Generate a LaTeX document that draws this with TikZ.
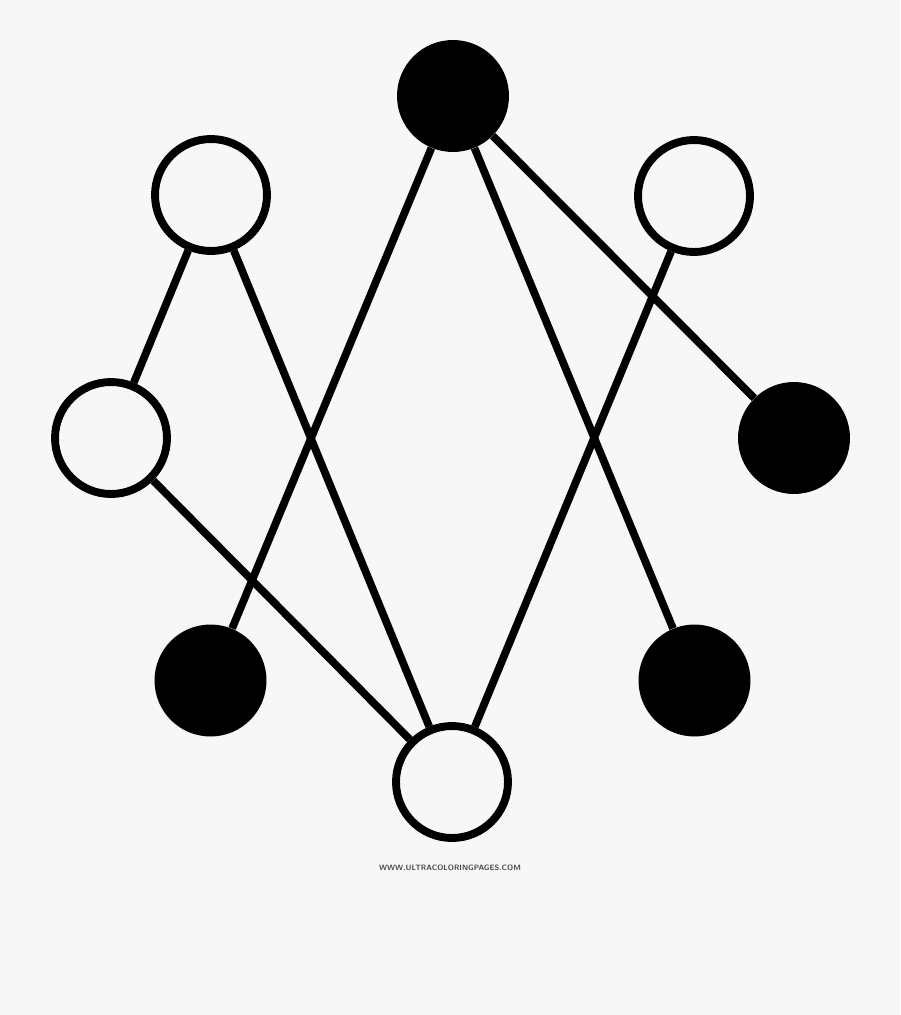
\documentclass[tikz,border=0pt]{standalone}
\usetikzlibrary{calc}
\definecolor{hintergrund}{RGB}{247,247,247}
\definecolor{schrift}{RGB}{70,70,70}
\tikzset{
    leer/.style={circle, draw=black, line width=4.5pt, fill=hintergrund, inner sep=0pt, minimum size=2.24cm},
    voll/.style={circle, fill=black, inner sep=0pt, minimum size=2.24cm},
    kante/.style={line width=4.4pt, black}
}

\begin{document}
\begin{tikzpicture}[x=0.02cm, y=-0.02cm]

    \fill[hintergrund] (0,0) rectangle (900,1015);
    \useasboundingbox (0,0) rectangle (900,1015);

	% Knoten
	\node[voll] (oben) at (453,96) {};
	\node[leer] (obenlinks) at (211,195) {};
	\node[leer] (obenrechts) at (694,196) {};
	\node[leer] (links) at (111,438) {};
	\node[voll] (rechts) at (794,438) {};
	\node[voll] (untenlinks) at (210.5,680.5) {};
	\node[voll] (untenrechts) at (694.5,680.5) {};
	\node[leer] (unten) at (452,782) {};

	% Kanten
	\draw[kante] (oben) -- (rechts);
	\draw[kante] (oben) -- (untenlinks);
	\draw[kante] (oben) -- (untenrechts);
	\draw[kante] (obenlinks) -- (links);
	\draw[kante] (obenlinks) -- (unten);
	\draw[kante] (obenrechts) -- (unten);
	\draw[kante] (links) -- (unten);

	\node[schrift, font=\fontsize{4.4}{5}\sffamily\bfseries] (quelle) at (450,868) {WWW.ULTRACOLORINGPAGES.COM};

\end{tikzpicture}
\end{document}
